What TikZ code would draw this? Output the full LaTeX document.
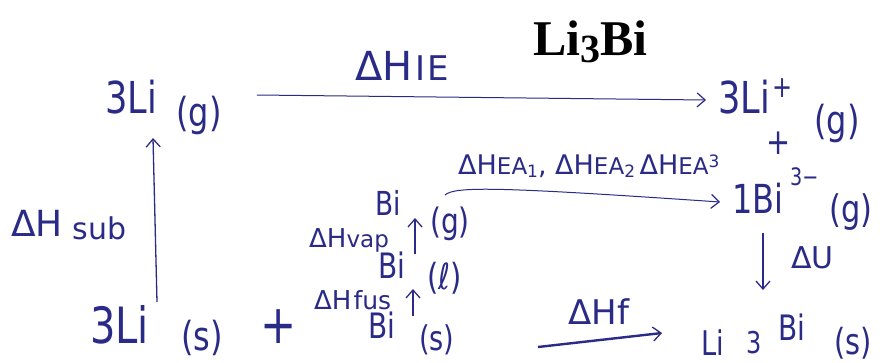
\documentclass[tikz,border=0pt]{standalone}
\usepackage{fontspec}
\usetikzlibrary{arrows.meta}
\setmainfont{Liberation Serif}
\newfontfamily\hand[FakeStretch=0.8]{DejaVu Sans}
\newfontfamily\handl{DejaVu Sans}
\definecolor{ink}{RGB}{42,42,135}
\newcommand\fs[1]{\fontsize{#1}{#1}\selectfont}
\begin{document}
\begin{tikzpicture}[x=1pt,y=-1pt,
  txt/.style={anchor=base west, inner sep=0pt, text=ink, font=\hand},
  arr/.style={draw=ink, line width=1.3pt, -{Straight Barb[length=8pt,width=14pt,line width=1.3pt]}},
  thinarr/.style={draw=ink, line width=1pt, -{Straight Barb[length=8pt,width=14pt,line width=1.2pt]}}]
\useasboundingbox[fill=white] (0,0) rectangle (887,362);
% title
\node[anchor=base west, inner sep=0pt, font=\bfseries\fs{50}] (title) at (533,55) {Li\raisebox{-7pt}{\fs{40}3}Bi};
% 3Li(g)
\node[txt, font=\hand\fs{44}] (LiG) at (105,113) {3Li};
\node[txt, font=\hand\fs{40}] (LiGst) at (176,126) {(g)};
% 3Li+(g)
\node[txt, font=\hand\fs{44}] (LiP) at (718,113) {3Li};
\node[txt, font=\hand\fs{30}] (LiPch) at (772,97) {+};
\node[txt, font=\hand\fs{40}] (LiPst) at (814,134) {(g)};
\node[txt, font=\hand\fs{36}] (plus1) at (766,154) {+};
% 1Bi3-(g)
\node[txt, font=\hand\fs{40}] (BiM) at (732,213) {1Bi};
\node[txt, font=\hand\fs{24}] (BiMch) at (790,185) {3\textminus};
\node[txt, font=\hand\fs{38}] (BiMst) at (829,222) {(g)};
% Li3Bi(s)
\node[txt, font=\hand\fs{34}] (prodA) at (701,355) {Li};
\node[txt, font=\hand\fs{30}] (prodB) at (746,353) {3};
\node[txt, font=\hand\fs{35}] (prodC) at (778,340) {Bi};
\node[txt, font=\hand\fs{36}] (prodD) at (834,354) {(s)};
% 3Li(s)
\node[txt, font=\hand\fs{50}] (LiS) at (90,343) {3Li};
\node[txt, font=\hand\fs{40}] (LiSst) at (181,350) {(s)};
\node[txt, font=\hand\fs{54}] (plus2) at (260,343) {+};
% Bi column
\node[txt, font=\hand\fs{33}] (BiG) at (375,215) {Bi};
\node[txt, font=\hand\fs{35}] (BiGst) at (430,233) {(g)};
\node[txt, font=\hand\fs{35}] (BiL) at (378,278) {Bi};
\node[txt, font=\hand\fs{36}] (BiLst) at (427,289) {(ℓ)};
\node[txt, font=\hand\fs{35}] (BiS) at (368,338) {Bi};
\node[txt, font=\hand\fs{34}] (BiSst) at (419,350) {(s)};
% labels
\node[txt, font=\handl\fs{40}] (lIE) at (355,80) {ΔH\hspace{3pt}{\fs{34}I\hspace{2pt}E}};
\node[txt, font=\handl\fs{36}] (lsub) at (11,236) {ΔH\hspace{10pt}\raisebox{-3pt}{\fs{30}sub}};
\node[txt, font=\handl\fs{26}] (lvap) at (309,247) {ΔH\fs{23}vap};
\node[txt, font=\handl\fs{26}] (lfus) at (314,309) {ΔH\hspace{2pt}\fs{25}fus};
\node[txt, font=\handl\fs{34}] (lf) at (568,324) {ΔHf};
\node[txt, font=\handl\fs{30}] (lU) at (791,268) {ΔU};
\node[txt, font=\handl\fs{27}] (lEA) at (458,174) {ΔH{\fs{23}EA\raisebox{-3pt}{\fs{17}1}}, ΔH{\fs{23}EA\raisebox{-3pt}{\fs{17}2}}\,ΔH{\fs{23}EA\raisebox{7pt}{\fs{17}3}}};
% arrow end points
\coordinate (ieS) at (257,95);
\coordinate (ieE) at (706,100);
\coordinate (subS) at (157,302);
\coordinate (subE) at (153,138);
\coordinate (eaS) at (445,195);
\coordinate (eaE) at (720,202);
\coordinate (uS) at (763,233);
\coordinate (uE) at (763,290);
\coordinate (fS) at (538,347);
\coordinate (fE) at (662,333);
\coordinate (vS) at (415,254);
\coordinate (vE) at (415,218);
\coordinate (fuS) at (413,316);
\coordinate (fuE) at (413,289);
% connectors
\draw[thinarr] (ieS) -- (ieE);
\draw[arr] (subS) -- (subE);
\draw[thinarr] (eaS) .. controls (455,186) and (500,187) .. (eaE);
\draw[arr] (uS) -- (uE);
\draw[arr, line width=2.4pt] (fS) -- (fE);
\draw[arr, line width=2pt] (vS) -- (vE);
\draw[arr, line width=2pt] (fuS) -- (fuE);
\end{tikzpicture}
\end{document}
